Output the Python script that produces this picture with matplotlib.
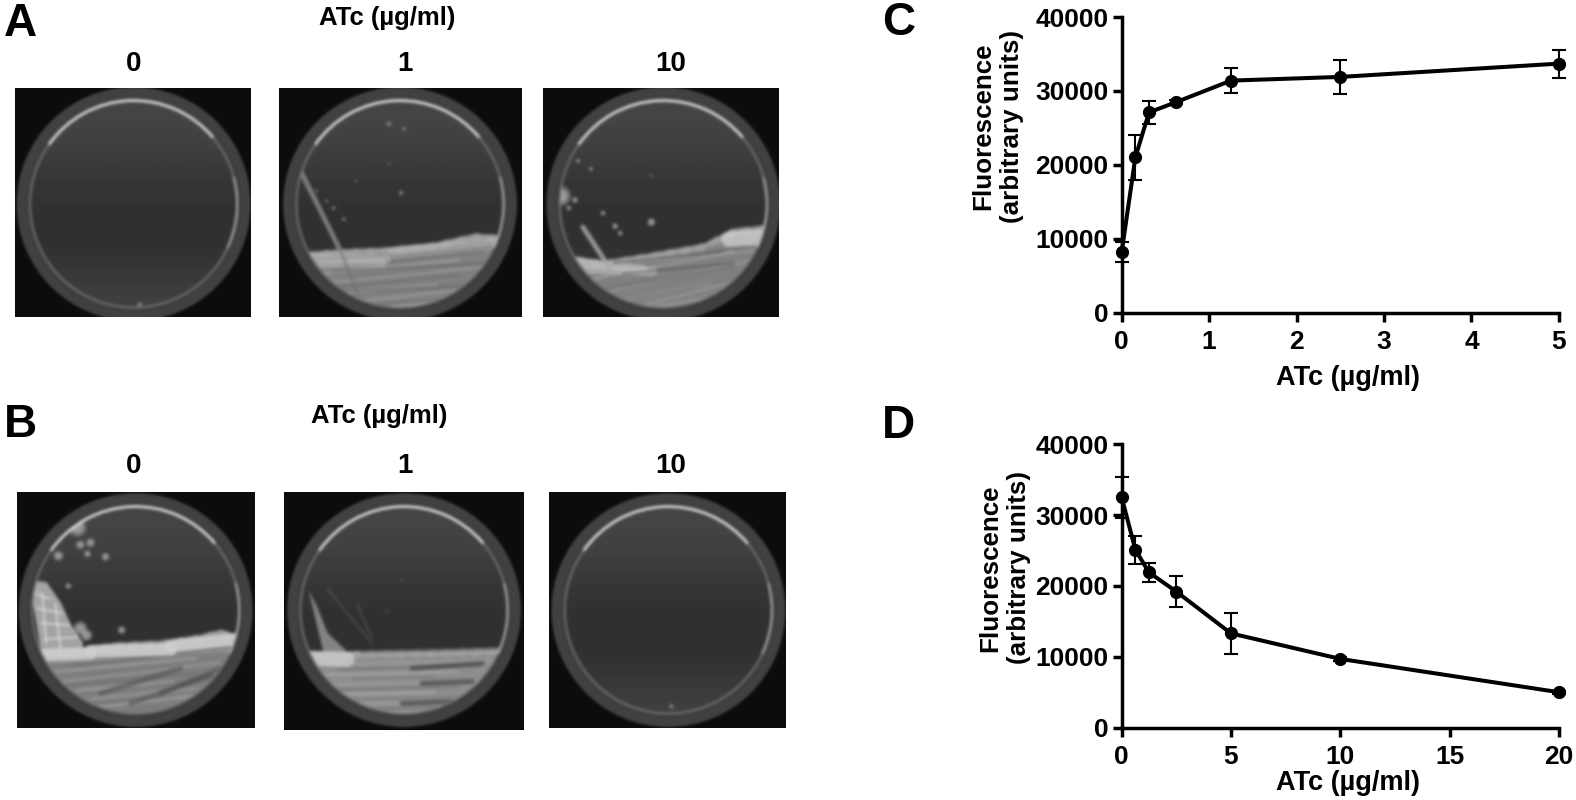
import matplotlib
matplotlib.use('Agg')
import matplotlib.pyplot as plt
import numpy as np
from matplotlib.patches import Arc, Circle, Polygon

W, H = 1576, 800
VW, VH = 1568, 796

# panel C
c_dose = [0, 0.156, 0.3125, 0.625, 1.25, 2.5, 5]
c_fluor = [8200, 21000, 27100, 28500, 31400, 31900, 33700]
c_err = [1300, 3000, 1600, 300, 1700, 2300, 1900]
c_xticks = [0, 1, 2, 3, 4, 5]

# panel D
d_dose = [0, 0.625, 1.25, 2.5, 5, 10, 20]
d_fluor = [32500, 25100, 21900, 19200, 13300, 9700, 5000]
d_err = [2900, 2000, 1300, 2200, 2900, 300, 200]
d_xticks = [0, 5, 10, 15, 20]

y_ticks = [0, 10000, 20000, 30000, 40000]
plate_labels = ['0', '1', '10']

plt.rcParams['font.family'] = ['Liberation Sans', 'DejaVu Sans']
plt.rcParams['font.weight'] = 'bold'

# the plate photos get drawn on their own canvas first and blurred a bit
pf = plt.figure(figsize=(W / 100, H / 100), dpi=100, facecolor='#0c0c0c')
pl = pf.add_axes([0, 0, 1, 1])
pl.set_xlim(0, VW)
pl.set_ylim(VH, 0)
pl.axis('off')

boxes = []


def plate(box, center, r_out, r_in):
    boxes.append(box)
    cx, cy = center
    pl.add_patch(Circle((cx, cy), r_out, fc='#363636', ec='#5e5e5e', lw=1.2))
    pl.add_patch(Circle((cx, cy), r_out - 4, fc='#3e3e3e', ec='#4c4c4c', lw=1.2))
    agar = Circle((cx, cy), r_in, fc='none', ec='none')
    pl.add_patch(agar)
    shade = np.array([[0.27], [0.26], [0.23], [0.20], [0.19], [0.19], [0.21], [0.25]])
    im = pl.imshow(shade, extent=(cx - r_in, cx + r_in, cy + r_in, cy - r_in), cmap='gray',
                   vmin=0, vmax=1, aspect='auto', interpolation='bicubic', zorder=1.5)
    im.set_clip_path(agar)
    pl.add_patch(Circle((cx, cy), r_in, fc='none', ec='#7c7c7c', lw=1.2, zorder=3))
    pl.add_patch(Arc((cx, cy), 2 * r_in, 2 * r_in, theta1=215, theta2=320, ec='#e8e8e8', lw=1.8, zorder=3.1))
    pl.add_patch(Arc((cx, cy), 2 * r_in, 2 * r_in, theta1=345, theta2=25, ec='#b5b5b5', lw=1.4, zorder=3.1))
    return agar


def lawn(agar, top, color='#858585', alpha=0.95):
    pts = list(top) + [(top[-1][0] + 30, top[-1][1] + 110), (top[0][0] - 30, top[0][1] + 110)]
    pl.add_patch(Polygon(pts, fc=color, ec=color, lw=1, alpha=alpha, zorder=2)).set_clip_path(agar)
    # soft growth front, then the smeared lines below it
    tx = np.array([p[0] for p in top], dtype=float)
    ty = np.array([p[1] for p in top], dtype=float)
    for i, x in enumerate(np.arange(tx[0], tx[-1], 5)):
        r = 2.5 + (i % 3) * 0.8
        c = Circle((x, np.interp(x, tx, ty) + 3), r, fc='#a8a8a8', ec='none', alpha=0.7, zorder=2.1)
        pl.add_patch(c).set_clip_path(agar)
    for k, dy in enumerate(range(12, 90, 5)):
        shift = (k * 37) % 60
        xa, xb = tx[0] + shift, tx[-1] - (k * 23) % 70
        ya = np.interp(xa, tx, ty) + dy
        yb = np.interp(xb, tx, ty) + dy
        tone = ['#a6a6a6', '#6a6a6a', '#b4b4b4', '#757575'][k % 4]
        l, = pl.plot([xa, xb], [ya, yb], color=tone, lw=2.2, alpha=0.45, zorder=2.12)
        l.set_clip_path(agar)


def streaks(agar, lines, color, lw=2.5, alpha=0.6):
    for (xa, ya, xb, yb) in lines:
        l, = pl.plot([xa, xb], [ya, yb], color=color, lw=lw, alpha=alpha, zorder=2.2,
                     solid_capstyle='round')
        l.set_clip_path(agar)


def blobs(agar, spots, color='#a0a0a0'):
    for (x, y, r) in spots:
        pl.add_patch(Circle((x, y), r, fc=color, ec='none', alpha=0.4, zorder=2.3)).set_clip_path(agar)
        pl.add_patch(Circle((x, y), r * 0.65, fc=color, ec='none', alpha=0.6, zorder=2.3)).set_clip_path(agar)


# A 0
a0 = plate((15, 250, 88, 316), (133, 203), 115, 103)
blobs(a0, [(139, 303, 2.5)])

# A 1
a1 = plate((278, 520, 88, 316), (398, 203), 115, 103)
lawn(a1, [(300, 252), (333, 249), (383, 247), (433, 242), (473, 233), (502, 235)])
streaks(a1, [(302, 256, 385, 258), (305, 263, 380, 262), (390, 250, 500, 240)], '#bcbcbc', 6, 0.5)
streaks(a1, [(330, 270, 480, 262), (320, 290, 470, 285)], '#5a5a5a', 2, 0.4)
streaks(a1, [(298, 168, 338, 248)], '#8a8a8a', 3.5, 0.85)
streaks(a1, [(338, 248, 355, 290)], '#6e6e6e', 2.5, 0.5)
blobs(a1, [(387, 123, 2.5), (402, 128, 2), (399, 192, 2.5), (387, 163, 1.2), (332, 207, 2),
           (342, 218, 2), (354, 180, 1.2), (315, 190, 1.5), (325, 200, 1.5)])

# A 10
a10 = plate((541, 776, 88, 316), (660, 203), 115, 103)
lawn(a10, [(568, 255), (600, 260), (650, 252), (700, 243), (730, 228), (760, 225), (775, 235)])
streaks(a10, [(568, 260, 640, 268), (575, 268, 650, 270)], '#c8c8c8', 6, 0.55)
streaks(a10, [(725, 238, 760, 236)], '#d8d8d8', 11, 0.7)
streaks(a10, [(610, 262, 720, 250), (620, 272, 730, 262)], '#505050', 1.5, 0.6)
streaks(a10, [(580, 226, 610, 272)], '#a8a8a8', 3.5, 0.85)
blobs(a10, [(558, 195, 10), (572, 199, 3), (566, 207, 2.5), (648, 221, 4), (600, 212, 2.5),
            (612, 225, 3), (617, 232, 2.5), (575, 160, 2), (588, 168, 2), (648, 175, 1.2)], '#c0c0c0')

# B 0
b0 = plate((17, 254, 490, 725), (135, 607), 115, 103)
lawn(b0, [(35, 648), (80, 645), (115, 640), (160, 638), (200, 632), (220, 627), (240, 634)], '#838383')
pl.add_patch(Polygon([(30, 578), (46, 580), (60, 600), (70, 622), (82, 640), (80, 652), (42, 652)],
                     fc='#b0b0b0', ec='#b0b0b0', lw=1, alpha=0.9, zorder=2.1)).set_clip_path(b0)
streaks(b0, [(36, 652, 90, 650), (90, 648, 170, 646), (170, 643, 235, 636)], '#cfcfcf', 9, 0.9)
streaks(b0, [(100, 690, 180, 665), (130, 700, 210, 672), (160, 690, 220, 665)], '#4c4c4c', 3.5, 0.55)
streaks(b0, [(32, 590, 50, 596), (36, 605, 62, 610), (40, 620, 70, 622), (44, 636, 78, 634),
             (42, 590, 46, 640), (55, 600, 60, 645)], '#eeeeee', 0.9, 0.9)
blobs(b0, [(77, 525, 9), (80, 542, 4.5), (90, 540, 4.5), (87, 551, 3.5), (58, 553, 5), (105, 554, 4),
           (68, 583, 3), (121, 627, 4), (80, 625, 7), (86, 632, 6), (32, 587, 8)], '#b5b5b5')

# B 1
b1 = plate((283, 522, 490, 727), (402, 607), 115, 103)
lawn(b1, [(300, 650), (340, 649), (370, 648), (430, 647), (500, 645)], '#939393')
pl.add_patch(Polygon([(307, 587), (316, 605), (326, 630), (345, 648), (322, 650)],
                     fc='#8e8e8e', ec='none', alpha=0.9, zorder=2.1)).set_clip_path(b1)
streaks(b1, [(305, 655, 345, 656)], '#cacaca', 11, 0.85)
streaks(b1, [(360, 649, 495, 646)], '#5a5a5a', 1.2, 0.7)
streaks(b1, [(410, 665, 480, 660), (420, 680, 470, 678), (400, 700, 450, 698)], '#383838', 3.5, 0.6)
streaks(b1, [(325, 585, 370, 640), (355, 600, 370, 635)], '#6a6a6a', 0.8, 0.8)
blobs(b1, [(400, 578, 1), (385, 608, 1)])

# B 10
b10 = plate((547, 783, 490, 725), (665, 607), 115, 103)
blobs(b10, [(668, 703, 2.5)])

pf.canvas.draw()
raw = np.asarray(pf.canvas.buffer_rgba())[:, :, :3].astype(float)
plt.close(pf)

# gaussian blur, both directions
kx = np.arange(-5, 6)
kernel = np.exp(-kx ** 2 / (2 * 1.5 ** 2))
kernel = kernel / kernel.sum()
soft = raw[:, :, 0]
soft = np.apply_along_axis(np.convolve, 0, soft, kernel, mode='same')
soft = np.apply_along_axis(np.convolve, 1, soft, kernel, mode='same')

photo = np.ones_like(soft) * 255
sx = W / VW
sy = H / VH
for (x0, x1, y0, y1) in boxes:
    i0, i1, j0, j1 = int(y0 * sy), int(y1 * sy), int(x0 * sx), int(x1 * sx)
    photo[i0:i1, j0:j1] = soft[i0:i1, j0:j1]

fig = plt.figure(figsize=(W / 100, H / 100), dpi=100)
bg = fig.add_axes([0, 0, 1, 1])
bg.imshow(photo, cmap='gray', vmin=0, vmax=255, extent=(0, VW, VH, 0), aspect='auto',
          interpolation='nearest')
bg.set_xlim(0, VW)
bg.set_ylim(VH, 0)
bg.axis('off')

# headings and panel letters
bg.text(385, 18, 'ATc (µg/ml)', fontsize=18.5, ha='center', va='center')
bg.text(377, 414, 'ATc (µg/ml)', fontsize=18.5, ha='center', va='center')
for y in (64, 464):
    for x, lab in zip((133, 403, 667), plate_labels):
        bg.text(x, y, lab, fontsize=20, ha='center', va='center')
for x, y, lab in [(20, 24, 'A'), (20, 423, 'B'), (894, 23, 'C'), (894, 424, 'D')]:
    bg.text(x, y, lab, fontsize=33, ha='center', va='center')


def curve(box, xs, ys, err, xticks, xmax, ylab_x, ylab_y, xlab_y):
    x0, x1, y_top, y_bot = box
    ax = fig.add_axes([x0 / VW, 1 - y_bot / VH, (x1 - x0) / VW, (y_bot - y_top) / VH])
    ax.patch.set_alpha(0)
    ax.errorbar(xs, ys, yerr=err, color='black', lw=2.9, marker='o', ms=8.5, elinewidth=1.5,
                capsize=5, capthick=1.5, clip_on=False, zorder=5)
    ax.set_xlim(0, xmax)
    ax.set_ylim(0, 40000)
    ax.set_xticks(xticks)
    ax.set_yticks(y_ticks)
    ax.spines['top'].set_visible(False)
    ax.spines['right'].set_visible(False)
    ax.spines['left'].set_linewidth(2.5)
    ax.spines['bottom'].set_linewidth(2.5)
    ax.tick_params(width=2.5, length=6.5, labelsize=19)
    ax.tick_params(axis='x', pad=6)
    ax.tick_params(axis='y', pad=3)
    fig.text(ylab_x / VW, 1 - ylab_y / VH, 'Fluorescence\n(arbitrary units)', rotation=90,
             fontsize=18.7, ha='center', va='center', linespacing=1.25)
    fig.text(1341 / VW, 1 - xlab_y / VH, 'ATc (µg/ml)', fontsize=19.5, ha='center', va='center')
    return ax


curve((1116, 1551, 17, 311), c_dose, c_fluor, c_err, c_xticks, 5, 993, 126, 376)
curve((1116, 1551, 442, 724), d_dose, d_fluor, d_err, d_xticks, 20, 1000, 565, 779)

fig.savefig('out.png', dpi=100)
